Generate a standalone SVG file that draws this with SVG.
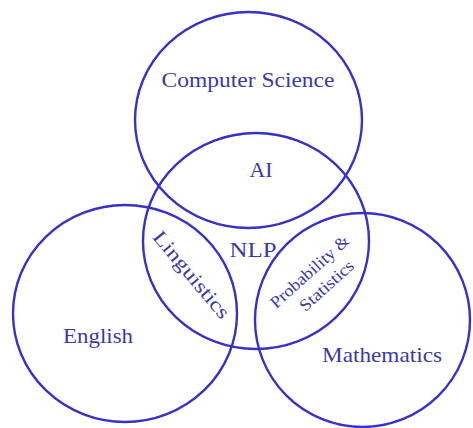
<svg xmlns="http://www.w3.org/2000/svg" width="473" height="428" viewBox="0 0 473 428">
<style>
.c{fill:none;stroke:#3632c8;stroke-width:2.4}
.t{font-family:"Liberation Serif","Times New Roman",serif;fill:#3b3aa6;text-anchor:middle}
</style>
<rect width="473" height="428" fill="#ffffff"/>
<g id="computer-science">
<ellipse class="c" cx="248.5" cy="120" rx="113.5" ry="108"/>
<text class="t" x="248" y="87" font-size="21" textLength="173" lengthAdjust="spacingAndGlyphs">Computer Science</text>
</g>
<g id="nlp">
<ellipse class="c" cx="256" cy="241" rx="113" ry="108"/>
<text class="t" x="261" y="177" font-size="21" textLength="23" lengthAdjust="spacingAndGlyphs">AI</text>
<text class="t" x="253" y="257" font-size="21" textLength="47" lengthAdjust="spacingAndGlyphs">NLP</text>
</g>
<g id="english">
<ellipse class="c" cx="125" cy="313.5" rx="112" ry="108.5"/>
<text class="t" x="98" y="343" font-size="21" textLength="70" lengthAdjust="spacingAndGlyphs">English</text>
<text class="t" transform="translate(191,275) rotate(50)" x="0" y="6" font-size="20" textLength="108" lengthAdjust="spacingAndGlyphs">Linguistics</text>
</g>
<g id="mathematics">
<ellipse class="c" cx="362.5" cy="320" rx="107.5" ry="107"/>
<text class="t" x="382" y="362" font-size="21" textLength="120" lengthAdjust="spacingAndGlyphs">Mathematics</text>
<text class="t" transform="translate(310,272) rotate(-42)" x="0" y="5" font-size="17" textLength="100" lengthAdjust="spacingAndGlyphs">Probability &amp;</text>
<text class="t" transform="translate(327,286) rotate(-42)" x="0" y="5" font-size="17" textLength="67" lengthAdjust="spacingAndGlyphs">Statistics</text>
</g>
<g id="connectors"/>
</svg>
